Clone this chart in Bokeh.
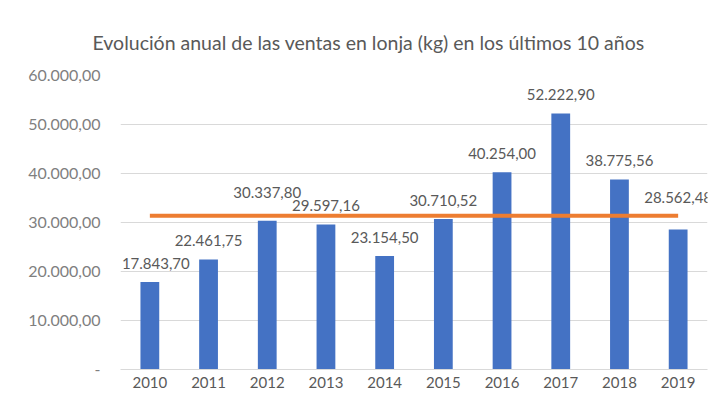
from bokeh.plotting import figure
from bokeh.models import FactorRange, Range1d, FixedTicker, CustomJSTickFormatter, ColumnDataSource, LabelSet
from bokeh.core.properties import value
from bokeh.embed import file_html
from bokeh.resources import INLINE

# ---- data ----
years = ["2010", "2011", "2012", "2013", "2014", "2015", "2016", "2017", "2018", "2019"]
ventas = [17843.70, 22461.75, 30337.80, 29597.16, 23154.50, 30710.52, 40254.00, 52222.90, 38775.56, 28562.48]
media = [31392.04, 31392.04, 31392.04, 31392.04, 31392.04, 31392.04, 31392.04, 31392.04, 31392.04, 31392.04]
y_ticks = [0, 10000, 20000, 30000, 40000, 50000, 60000]


def fmt_es(v):
    s = f"{v:,.2f}"
    return s.replace(",", "X").replace(".", ",").replace("X", ".")


labels = [fmt_es(v) for v in ventas]
# label placement tweaks (px): Excel moved some labels to avoid the line
label_shift = [0, 0, 9, 0, 0, 0, 0, 0, 0, 13]
label_offsets = [19 + d for d in label_shift]
label_dx = [6, 0, 0, 0, 0, 0, 0, 0, 0, 0]

FONT = "Lato"
TXT = "#595959"

src = ColumnDataSource(dict(years=years, ventas=ventas, media=media, labels=labels,
                            dy=label_offsets, dx=label_dx))

p = figure(
    x_range=FactorRange(*years, range_padding=0),
    y_range=Range1d(0, 60000),
    width=719, height=405,
    output_backend="svg", toolbar_location=None,
    min_border_left=120, min_border_right=12, min_border_top=75, min_border_bottom=36,
)

p.title.text = "Evolución anual de las ventas en lonja (kg) en los últimos 10 años"
p.title.align = "left"
p.title.offset = -28
p.title.text_font = FONT
p.title.text_font_size = "19.5px"
p.title.text_font_style = "normal"
p.title.text_color = TXT
p.title.standoff = 44

p.vbar(x="years", top="ventas", width=0.32, source=src, fill_color="#4472C4", line_color=None)
p.line(x="years", y="media", source=src, line_color="#ED7D31", line_width=4)
p.add_layout(LabelSet(x="years", y="ventas", text="labels", source=src, y_offset="dy", x_offset="dx",
                      text_align="center", text_baseline="middle",
                      text_font=value(FONT), text_font_size=value("15px"), text_color=value(TXT)))

p.outline_line_color = None
p.background_fill_color = "white"
p.border_fill_color = "white"

p.xgrid.grid_line_color = None
p.ygrid.grid_line_color = "#d9d9d9"
p.ygrid.grid_line_width = 1

p.yaxis.ticker = FixedTicker(ticks=y_ticks)
p.yaxis.formatter = CustomJSTickFormatter(code="""
    if (tick == 0) { return '-'; }
    var parts = tick.toFixed(2).split('.');
    parts[0] = parts[0].replace(/\\B(?=(\\d{3})+(?!\\d))/g, '.');
    return parts[0] + ',' + parts[1];
""")
p.yaxis.axis_line_color = None
p.yaxis.major_tick_line_color = None
p.yaxis.minor_tick_line_color = None
p.yaxis.major_tick_out = 0
p.yaxis.major_label_standoff = 20
p.yaxis.major_label_text_font = FONT
p.yaxis.major_label_text_font_size = "16px"
p.yaxis.major_label_text_color = "#7f7f7f"

p.xaxis.axis_line_color = "#d9d9d9"
p.xaxis.major_tick_line_color = None
p.xaxis.minor_tick_line_color = None
p.xaxis.major_tick_out = 0
p.xaxis.major_label_standoff = 7
p.xaxis.major_label_text_font = FONT
p.xaxis.major_label_text_font_size = "15px"
p.xaxis.major_label_text_color = TXT

open("out.html", "w").write(file_html(p, INLINE))
